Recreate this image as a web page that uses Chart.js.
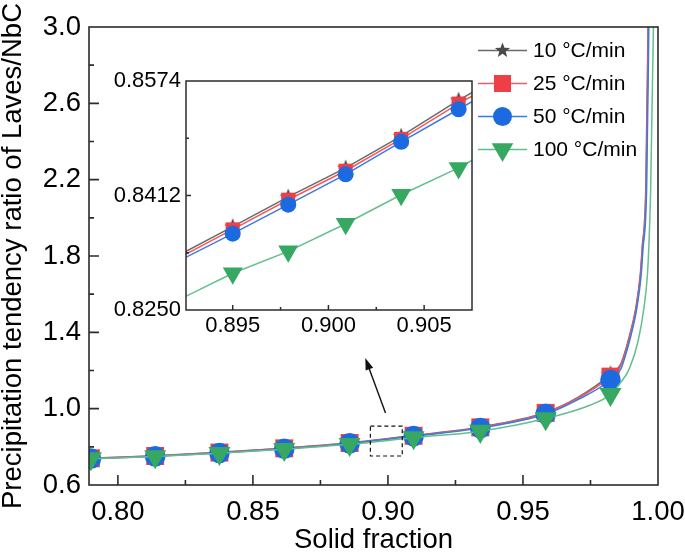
<!DOCTYPE html>
<html>
<head>
<meta charset="utf-8">
<script src="https://cdn.jsdelivr.net/npm/chart.js@4.4.1/dist/chart.umd.min.js"></script>
<style>
  html, body { margin: 0; padding: 0; background: #fff; }
  #wrap { position: relative; width: 685px; height: 554px; }
  #mainChart { position: absolute; left: 0; top: 0; }
  #insetChart { position: absolute; left: 96px; top: 66px; }
</style>
</head>
<body>
<div id="wrap">
  <canvas id="mainChart" width="685" height="554"></canvas>
  <canvas id="insetChart" width="390" height="290"></canvas>
</div>
<script>
// series names
const series = ['10 °C/min', '25 °C/min', '50 °C/min', '100 °C/min'];

// solid fraction where markers are shown on the main plot
const markerX = [0.7900, 0.8138, 0.8376, 0.8616, 0.8858, 0.9095, 0.9342, 0.9584, 0.9824];

// main curves (solid fraction / ratio)
const x10 = [0.7880, 0.7900, 0.8138, 0.8376, 0.8616, 0.8858, 0.9095, 0.9342, 0.9584, 0.9700, 0.9824, 0.9860, 0.9873, 0.9891, 0.9919, 0.9935, 0.9941, 0.9955, 0.9963, 0.9967];
const y10 = [0.740, 0.741, 0.753, 0.771, 0.793, 0.821, 0.860, 0.904, 0.980, 1.056, 1.178, 1.228, 1.276, 1.364, 1.538, 1.712, 1.836, 2.172, 3.000, 3.500];
const x25 = [0.7880, 0.7900, 0.8138, 0.8376, 0.8616, 0.8858, 0.9095, 0.9342, 0.9584, 0.9700, 0.9824, 0.9861, 0.9874, 0.9892, 0.9920, 0.9936, 0.9942, 0.9956, 0.9964, 0.9968];
const y25 = [0.739, 0.740, 0.752, 0.770, 0.792, 0.820, 0.858, 0.902, 0.978, 1.052, 1.168, 1.222, 1.272, 1.360, 1.535, 1.710, 1.835, 2.170, 3.000, 3.500];
const x50 = [0.7880, 0.7900, 0.8138, 0.8376, 0.8616, 0.8858, 0.9095, 0.9342, 0.9584, 0.9700, 0.9824, 0.9863, 0.9876, 0.9894, 0.9922, 0.9938, 0.9944, 0.9958, 0.9966, 0.9970];
const y50 = [0.737, 0.738, 0.750, 0.768, 0.790, 0.818, 0.856, 0.898, 0.972, 1.045, 1.150, 1.210, 1.263, 1.352, 1.529, 1.706, 1.830, 2.163, 3.000, 3.500];
const x100 = [0.7880, 0.7900, 0.8138, 0.8376, 0.8616, 0.8858, 0.9095, 0.9342, 0.9584, 0.9750, 0.9824, 0.9863, 0.9894, 0.9926, 0.9948, 0.9961, 0.9967, 0.9973, 0.9983, 0.9987];
const y100 = [0.737, 0.738, 0.749, 0.766, 0.787, 0.813, 0.848, 0.882, 0.948, 1.019, 1.075, 1.139, 1.210, 1.352, 1.529, 1.706, 1.884, 2.163, 3.000, 3.400];

// inset (zoomed part near 0.90)
const insetX = [0.8920, 0.8950, 0.8979, 0.9009, 0.9038, 0.9068, 0.9090];
const inset10 = [0.8325, 0.8368, 0.8410, 0.8451, 0.8496, 0.8547, 0.8580];
const inset25 = [0.8321, 0.8364, 0.8406, 0.8447, 0.8492, 0.8542, 0.8575];
const inset50 = [0.8317, 0.8358, 0.8399, 0.8442, 0.8488, 0.8534, 0.8568];
const inset100 = [0.8262, 0.8302, 0.8333, 0.8372, 0.8413, 0.8451, 0.8485];

// tick labels
const xTicks = [0.80, 0.85, 0.90, 0.95, 1.00];
const yTicks = [0.6, 1.0, 1.4, 1.8, 2.2, 2.6, 3.0];
const insetXTicks = [0.895, 0.900, 0.905];
const insetYTicks = [0.8250, 0.8412, 0.8574];

// dashed box and arrow, in data units of the main plot
const zoomBox = [0.8935, 0.9053, 0.752, 0.909];
const arrowFrom = [0.8991, 0.977];
const arrowTo = [0.8916, 1.266];

const FONT = "'Liberation Sans', Arial, sans-serif";
const lineColors = ['#6a6a6a', '#f25a5e', '#3a7ae4', '#62c08c'];
const markColors = ['#4a4a4a', '#ef3f46', '#1b6ae0', '#36a862'];
const marks = ['star', 'rect', 'circle', 'triangle'];

function drawMark(ctx, kind, x, y, r, color) {
    ctx.fillStyle = color;
    ctx.beginPath();
    if (kind === 'star') {
        for (let i = 0; i < 10; i++) {
            const a = -Math.PI / 2 + i * Math.PI / 5;
            const rr = i % 2 ? r * 0.42 : r;
            ctx.lineTo(x + rr * Math.cos(a), y + rr * Math.sin(a));
        }
    } else if (kind === 'rect') {
        ctx.rect(x - r, y - r, 2 * r, 2 * r);
    } else if (kind === 'circle') {
        ctx.arc(x, y, r, 0, Math.PI * 2);
    } else {
        ctx.moveTo(x - r * 0.866, y - r * 0.5);
        ctx.lineTo(x + r * 0.866, y - r * 0.5);
        ctx.lineTo(x, y + r);
    }
    ctx.closePath();
    ctx.fill();
}

function makeStar(r) {
    const c = document.createElement('canvas');
    const s = Math.ceil(r * 2) + 2;
    c.width = s; c.height = s;
    drawMark(c.getContext('2d'), 'star', s / 2, s / 2 + 0.5, r, markColors[0]);
    return c;
}

// frame + inward ticks (major and minor)
function axesFrame(major, minor, lw, fillArea) {
    return {
        id: 'axesFrame',
        beforeDatasetsDraw(chart) {
            if (!fillArea) return;
            const a = chart.chartArea;
            chart.ctx.save();
            chart.ctx.fillStyle = '#fff';
            chart.ctx.fillRect(a.left, a.top, a.width, a.height);
            chart.ctx.restore();
        },
        afterDatasetsDraw(chart) {
            const {ctx, chartArea: a, scales} = chart;
            ctx.save();
            ctx.strokeStyle = '#2b2b2b';
            ctx.lineWidth = lw;
            ctx.strokeRect(a.left, a.top, a.width, a.height);
            ctx.beginPath();
            ['x', 'y'].forEach(k => {
                const s = scales[k];
                const vals = s.ticks.map(t => t.value);
                const step = vals[1] - vals[0];
                const minors = [vals[0] - step / 2].concat(vals.slice(1).map((v, i) => (v + vals[i]) / 2), [vals[vals.length - 1] + step / 2]);
                const draw = (v, len) => {
                    const p = s.getPixelForValue(v);
                    if (k === 'x') {
                        if (p <= a.left + 1 || p >= a.right - 1) return;
                        ctx.moveTo(p, a.bottom); ctx.lineTo(p, a.bottom - len);
                    } else {
                        if (p <= a.top + 1 || p >= a.bottom - 1) return;
                        ctx.moveTo(a.left, p); ctx.lineTo(a.left + len, p);
                    }
                };
                vals.forEach(v => draw(v, major));
                minors.forEach(v => draw(v, minor));
            });
            ctx.stroke();
            ctx.restore();
        }
    };
}

document.addEventListener('DOMContentLoaded', function () {
    Chart.defaults.font.family = FONT;
    Chart.defaults.color = '#000';

    const mainStar = makeStar(10);
    const insetStar = makeStar(9);

    function mainSet(i, xs, ys, radius) {
        return {
            label: series[i],
            data: xs.map((x, k) => ({x: x, y: ys[k]})),
            borderColor: lineColors[i],
            borderWidth: 1.5,
            backgroundColor: markColors[i],
            pointBackgroundColor: markColors[i],
            pointBorderWidth: 0,
            pointStyle: i === 0 ? mainStar : marks[i],
            pointRotation: i === 3 ? 180 : 0,
            pointRadius: c => markerX.includes(xs[c.dataIndex]) ? radius : 0,
            cubicInterpolationMode: 'monotone',
            capBezierPoints: false,
            order: 3 - i
        };
    }

    function insetSet(i, ys, radius) {
        return {
            label: series[i],
            data: insetX.map((x, k) => ({x: x, y: ys[k]})),
            borderColor: lineColors[i],
            borderWidth: 1.5,
            backgroundColor: markColors[i],
            pointBackgroundColor: markColors[i],
            pointBorderWidth: 0,
            pointStyle: i === 0 ? insetStar : marks[i],
            pointRotation: i === 3 ? 180 : 0,
            pointRadius: c => (c.dataIndex === 0 || c.dataIndex === insetX.length - 1) ? 0 : radius,
            tension: 0,
            order: 3 - i
        };
    }

    const extras = {
        id: 'extras',
        afterDraw(chart) {
            const {ctx, scales: {x, y}} = chart;
            ctx.save();
            // dashed box
            ctx.strokeStyle = '#111';
            ctx.lineWidth = 1.2;
            ctx.setLineDash([4, 3]);
            const bx0 = x.getPixelForValue(zoomBox[0]), bx1 = x.getPixelForValue(zoomBox[1]);
            const by0 = y.getPixelForValue(zoomBox[3]), by1 = y.getPixelForValue(zoomBox[2]);
            ctx.strokeRect(bx0, by0, bx1 - bx0, by1 - by0);
            ctx.setLineDash([]);
            // arrow
            const ax0 = x.getPixelForValue(arrowFrom[0]), ay0 = y.getPixelForValue(arrowFrom[1]);
            const ax1 = x.getPixelForValue(arrowTo[0]), ay1 = y.getPixelForValue(arrowTo[1]);
            const ang = Math.atan2(ay1 - ay0, ax1 - ax0);
            const hl = 12, hw = 4;
            ctx.lineWidth = 1.4;
            ctx.beginPath();
            ctx.moveTo(ax0, ay0);
            ctx.lineTo(ax1 - Math.cos(ang) * hl * 0.8, ay1 - Math.sin(ang) * hl * 0.8);
            ctx.stroke();
            ctx.fillStyle = '#111';
            ctx.beginPath();
            ctx.moveTo(ax1, ay1);
            ctx.lineTo(ax1 - Math.cos(ang) * hl - Math.sin(ang) * hw, ay1 - Math.sin(ang) * hl + Math.cos(ang) * hw);
            ctx.lineTo(ax1 - Math.cos(ang) * hl + Math.sin(ang) * hw, ay1 - Math.sin(ang) * hl - Math.cos(ang) * hw);
            ctx.closePath();
            ctx.fill();
            // legend
            const sizes = [8, 8.5, 9.5, 12.5];
            series.forEach((name, i) => {
                const yy = 50.5 + i * 33;
                ctx.strokeStyle = lineColors[i];
                ctx.lineWidth = 1.5;
                ctx.beginPath();
                ctx.moveTo(478, yy);
                ctx.lineTo(527, yy);
                ctx.stroke();
                drawMark(ctx, marks[i], 502.5, yy, sizes[i], markColors[i]);
                ctx.fillStyle = '#000';
                ctx.font = '21px ' + FONT;
                ctx.textAlign = 'left';
                ctx.textBaseline = 'middle';
                ctx.fillText(name, 533, yy + 1);
            });
            ctx.restore();
        }
    };

    new Chart(document.getElementById('mainChart'), {
        type: 'line',
        data: {
            datasets: [
                mainSet(0, x10, y10, 10),
                mainSet(1, x25, y25, 12.7),
                mainSet(2, x50, y50, 10.3),
                mainSet(3, x100, y100, 12.7)
            ]
        },
        options: {
            responsive: false,
            animation: false,
            events: [],
            layout: { padding: { left: 0, top: 27, right: 27, bottom: 0 } },
            scales: {
                x: {
                    type: 'linear',
                    min: 0.7893,
                    max: 1.0,
                    afterBuildTicks: s => { s.ticks = xTicks.map(v => ({value: v})); },
                    afterFit: s => { s.height = 69; s.paddingLeft = 0; s.paddingRight = 0; },
                    ticks: { callback: v => v.toFixed(2), font: { size: 27.5 }, padding: 11, maxRotation: 0, autoSkip: false },
                    grid: { display: false, drawTicks: false },
                    border: { display: false },
                    title: { display: true, text: 'Solid fraction', font: { size: 27.5, lineHeight: 1 }, padding: 0 }
                },
                y: {
                    type: 'linear',
                    min: 0.6,
                    max: 3.0,
                    afterBuildTicks: s => { s.ticks = yTicks.map(v => ({value: v})); },
                    afterFit: s => { s.width = 89; s.paddingTop = 0; s.paddingBottom = 0; },
                    ticks: { callback: v => v.toFixed(1), font: { size: 27.5 }, padding: 8, autoSkip: false },
                    grid: { display: false, drawTicks: false },
                    border: { display: false },
                    title: { display: true, text: 'Precipitation tendency ratio of Laves/NbC', font: { size: 27.5, lineHeight: 1 }, padding: 0 }
                }
            },
            plugins: {
                legend: { display: false },
                tooltip: { enabled: false }
            }
        },
        plugins: [axesFrame(10, 5, 1.6, false), extras]
    });

    new Chart(document.getElementById('insetChart'), {
        type: 'line',
        data: {
            datasets: [
                insetSet(0, inset10, 9),
                insetSet(1, inset25, 10),
                insetSet(2, inset50, 8),
                insetSet(3, inset100, 11.5)
            ]
        },
        options: {
            responsive: false,
            animation: false,
            events: [],
            layout: { padding: { left: 0, top: 15, right: 14, bottom: 0 } },
            scales: {
                x: {
                    type: 'linear',
                    min: 0.89256,
                    max: 0.9075,
                    afterBuildTicks: s => { s.ticks = insetXTicks.map(v => ({value: v})); },
                    afterFit: s => { s.height = 46; s.paddingLeft = 0; s.paddingRight = 0; },
                    ticks: { callback: v => v.toFixed(3), font: { size: 22 }, padding: 3, maxRotation: 0, autoSkip: false },
                    grid: { display: false, drawTicks: false },
                    border: { display: false }
                },
                y: {
                    type: 'linear',
                    min: 0.8250,
                    max: 0.8574,
                    afterBuildTicks: s => { s.ticks = insetYTicks.map(v => ({value: v})); },
                    afterFit: s => { s.width = 90; s.paddingTop = 0; s.paddingBottom = 0; },
                    ticks: { callback: v => v.toFixed(4), font: { size: 22 }, padding: 5, autoSkip: false },
                    grid: { display: false, drawTicks: false },
                    border: { display: false }
                }
            },
            plugins: {
                legend: { display: false },
                tooltip: { enabled: false }
            }
        },
        plugins: [axesFrame(5, 3, 1.5, true)]
    });
});
</script>
</body>
</html>
